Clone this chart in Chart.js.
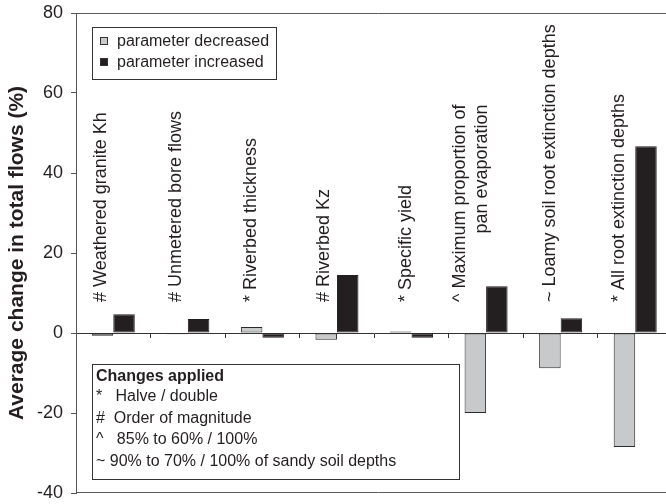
<!DOCTYPE html>
<html>
<head>
<meta charset="utf-8">
<title>Average change in total flows</title>
<script src="https://cdn.jsdelivr.net/npm/chart.js@4.4.1/dist/chart.umd.min.js"></script>
<style>
  html, body { margin: 0; padding: 0; background: #ffffff; overflow: hidden; }
  #wrap { width: 666px; height: 504px; overflow: hidden; }
  canvas { display: block; }
</style>
</head>
<body>
<div id="wrap"><canvas id="flows" width="680" height="504"></canvas></div>
<script>
// Sensitivity of simulated total flows to each model parameter
const parameters = [
  '# Weathered granite Kh',
  '# Unmetered bore flows',
  '* Riverbed thickness',
  '# Riverbed Kz',
  '* Specific yield',
  ['^ Maximum proportion of', 'pan evaporation'],
  '~ Loamy soil root extinction depths',
  '* All root extinction depths'
];
const decreasedChange = [-0.7, -0.3, 1.5, -1.7, 0.4, -20.0, -8.8, -28.5];
const increasedChange = [4.7, 3.5, -1.2, 14.5, -1.2, 11.7, 3.7, 46.7];
const seriesNames = ['parameter decreased', 'parameter increased'];
const yTickValues = [-40, -20, 0, 20, 40, 60, 80];
const axisTitle = 'Average change in total flows (%)';
const changesTitle = 'Changes applied';
const changesApplied = [
  '*   Halve / double',
  '#  Order of magnitude',
  '^   85% to 60% / 100%',
  '~ 90% to 70% / 100% of sandy soil depths'
];

const chartFont = '"Liberation Sans", Arial, Helvetica, sans-serif';
const ink = '#231f20';
const decreasedFill = '#c8c9ca';
const increasedFill = '#231f20';

// horizontal nudge of each rotated parameter label from its category centre
const labelShift = [-14, -13.5, -13, -14.5, -7, -17, -11.8, -17.3];

const frameLines = {
  id: 'frameLines',
  beforeDatasetsDraw(chart) {
    const { ctx, chartArea: a } = chart;
    ctx.save();
    ctx.strokeStyle = '#5a5a5a';
    ctx.lineWidth = 1;
    ctx.beginPath();
    ctx.moveTo(a.left, Math.round(a.top) + 0.5);
    ctx.lineTo(a.right + 10, Math.round(a.top) + 0.5);
    ctx.moveTo(a.left, Math.round(a.bottom) - 0.5);
    ctx.lineTo(a.right + 10, Math.round(a.bottom) - 0.5);
    ctx.stroke();
    ctx.restore();
  }
};

const parameterLabels = {
  id: 'parameterLabels',
  afterDatasetsDraw(chart) {
    const { ctx, scales: { x, y } } = chart;
    const baseY = y.getPixelForValue(0) - 31;
    const lineGap = 22;
    ctx.save();
    ctx.font = '18px ' + chartFont;
    ctx.fillStyle = ink;
    ctx.textBaseline = 'middle';
    parameters.forEach((name, i) => {
      const lines = [].concat(name);
      const cx = x.getPixelForValue(i) + labelShift[i] + 1.5;
      const firstX = cx - (lines.length - 1) * lineGap / 2;
      const firstWidth = ctx.measureText(lines[0]).width;
      lines.forEach((line, k) => {
        ctx.save();
        ctx.translate(firstX + k * lineGap, baseY);
        ctx.rotate(-Math.PI / 2);
        if (k === 0) {
          ctx.textAlign = 'left';
          ctx.fillText(line, 0, 0);
        } else {
          ctx.textAlign = 'right';
          ctx.fillText(line, firstWidth, 0);
        }
        ctx.restore();
      });
    });
    ctx.restore();
  }
};

const noteBoxes = {
  id: 'noteBoxes',
  afterDraw(chart) {
    const { ctx, chartArea: a, data } = chart;
    ctx.save();

    // series key
    const kx = a.left + 16, ky = a.top + 14, kw = 184, kh = 52;
    ctx.fillStyle = '#ffffff';
    ctx.fillRect(kx, ky, kw, kh);
    ctx.strokeStyle = '#333333';
    ctx.lineWidth = 1;
    ctx.strokeRect(kx + 0.5, ky + 0.5, kw, kh);
    ctx.font = '16px ' + chartFont;
    ctx.textBaseline = 'middle';
    ctx.textAlign = 'left';
    data.datasets.forEach((ds, i) => {
      const cy = ky + 14 + i * 21;
      ctx.fillStyle = ds.backgroundColor;
      ctx.fillRect(kx + 8.5, cy - 3.5, 7, 7);
      ctx.strokeStyle = '#333333';
      ctx.strokeRect(kx + 8.5, cy - 3.5, 7, 7);
      ctx.fillStyle = ink;
      ctx.fillText(ds.label, kx + 25, cy + 0.5);
    });

    // explanation of the symbols
    const bx = a.left + 16, by = a.top + 351, bw = 367, bh = 115;
    ctx.fillStyle = '#ffffff';
    ctx.fillRect(bx, by, bw, bh);
    ctx.strokeStyle = '#333333';
    ctx.strokeRect(bx + 0.5, by + 0.5, bw, bh);
    ctx.fillStyle = ink;
    ctx.font = 'bold 16px ' + chartFont;
    ctx.fillText(changesTitle, bx + 4, by + 12.5);
    ctx.font = '16px ' + chartFont;
    changesApplied.forEach((line, i) => {
      ctx.fillText(line, bx + 4, by + 33 + i * 21.5);
    });
    ctx.restore();
  }
};

new Chart(document.getElementById('flows'), {
  type: 'bar',
  data: {
    labels: parameters,
    datasets: [
      { label: seriesNames[0], data: decreasedChange, backgroundColor: decreasedFill, borderColor: '#2a2a2a', borderWidth: 1, borderSkipped: false },
      { label: seriesNames[1], data: increasedChange, backgroundColor: increasedFill, borderColor: increasedFill, borderWidth: 1, borderSkipped: false }
    ]
  },
  options: {
    responsive: false,
    animation: false,
    devicePixelRatio: 1,
    layout: { padding: { left: 0, top: 13, right: 7.5, bottom: 11 } },
    datasets: { bar: { categoryPercentage: 0.577, barPercentage: 1 } },
    plugins: { legend: { display: false }, tooltip: { enabled: false } },
    scales: {
      x: {
        type: 'category',
        position: { y: 0 },
        offset: true,
        afterFit: s => { s.height = 0; s.paddingTop = 0; s.paddingBottom = 0; s.paddingLeft = 0; s.paddingRight = 0; },
        grid: { offset: true, drawOnChartArea: false, drawTicks: true, tickLength: 4, color: '#333333' },
        border: { display: true, color: '#333333', width: 1 },
        ticks: { display: false }
      },
      y: {
        min: -40,
        max: 80,
        afterBuildTicks: s => { s.ticks = yTickValues.map(v => ({ value: v })); },
        afterFit: s => { s.width = 76; s.paddingTop = 0; s.paddingBottom = 0; },
        grid: { drawOnChartArea: false, tickLength: 5, color: '#555555' },
        border: { color: '#555555' },
        ticks: { font: { family: chartFont, size: 18 }, color: ink, padding: 8 },
        title: {
          display: true,
          text: axisTitle,
          font: { family: chartFont, size: 21, weight: 'bold' },
          color: ink,
          padding: { top: 5, bottom: 0 }
        }
      }
    }
  },
  plugins: [frameLines, parameterLabels, noteBoxes]
});
</script>
</body>
</html>
